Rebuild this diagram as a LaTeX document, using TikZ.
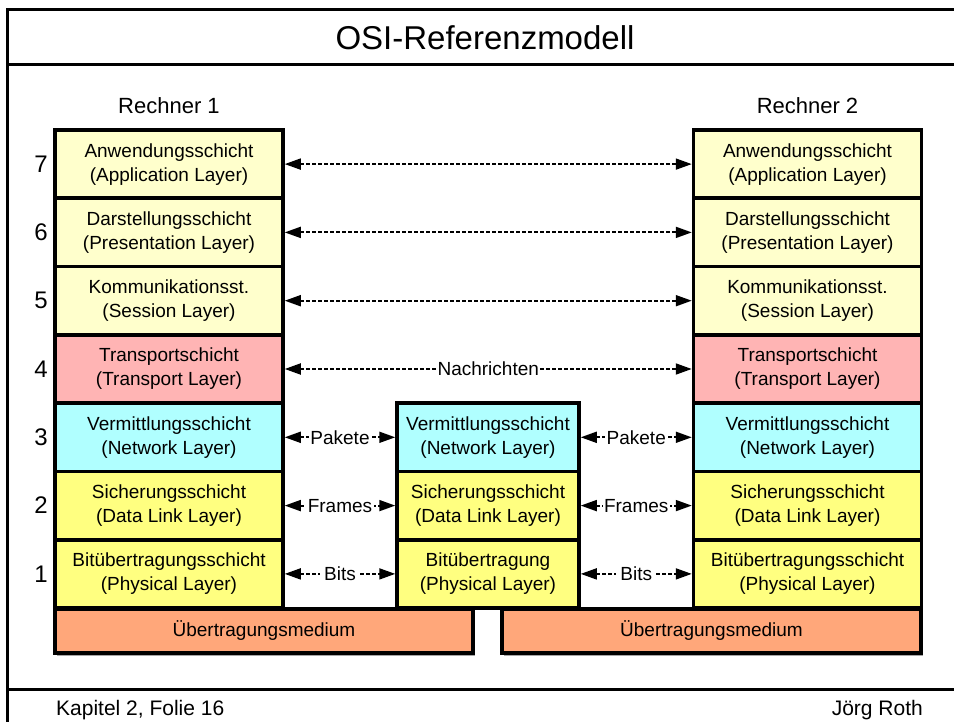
\documentclass[tikz,border=0pt]{standalone}
\usepackage{fontspec}
\setmainfont{Liberation Sans}
\usetikzlibrary{arrows.meta,shadows}
\definecolor{paleY}{HTML}{FFFFCC}
\definecolor{pinkL}{HTML}{FFB4B4}
\definecolor{cyanL}{HTML}{B0FFFF}
\definecolor{yelL}{HTML}{FFFF80}
\definecolor{medC}{HTML}{FFA77A}
\begin{document}
\begin{tikzpicture}[x=1pt,y=-1pt,
  frameline/.style={line width=3pt},
  layerbox/.style={draw, line width=3.5pt, align=center, inner sep=0pt,
    minimum height=68.3pt, font=\fontsize{19}{24}\selectfont},
  lbox/.style={layerbox, minimum width=228pt},
  mbox/.style={layerbox, minimum width=182pt},
  medbox/.style={draw, line width=3.5pt, fill=medC, inner sep=0pt, minimum height=44pt,
    font=\fontsize{19}{24}\selectfont,
    drop shadow={shadow xshift=1.5pt, shadow yshift=-2.5pt, fill=black!35, opacity=1}},
  numlbl/.style={font=\fontsize{24}{28}\selectfont, inner sep=0pt},
  arr/.style={line width=1.8pt, dash pattern=on 3.5pt off 2.5pt,
    {Triangle[length=16pt,width=11pt]}-{Triangle[length=16pt,width=11pt]}},
  lbl/.style={fill=white, inner sep=1.5pt, font=\fontsize{19}{24}\selectfont}
]
\useasboundingbox (0,0) rectangle (954,722);
% frame
\coordinate (fTL) at (7,10);
\coordinate (fTR) at (954,10);
\coordinate (fBL) at (7,722);
\coordinate (sL) at (7,65);
\coordinate (sR) at (954,65);
\coordinate (ftL) at (7,689);
\coordinate (ftR) at (954,689);
\draw[frameline] (fTR) -- (fTL) -- (fBL);
\draw[frameline] (sL) -- (sR);
\draw[frameline] (ftL) -- (ftR);

\node[font=\fontsize{33}{38}\selectfont] (title) at (485,38) {OSI-Referenzmodell};
\node[font=\fontsize{21}{25}\selectfont, anchor=base west, inner sep=0pt] (foot1) at (56,715) {Kapitel 2, Folie 16};
\node[font=\fontsize{21}{25}\selectfont, anchor=base east, inner sep=0pt] (foot2) at (923,715) {Jörg Roth};

\node[font=\fontsize{22}{26}\selectfont, anchor=base, inner sep=0pt] (r1) at (169,114) {Rechner 1};
\node[font=\fontsize{22}{26}\selectfont, anchor=base, inner sep=0pt] (r2) at (807.5,114) {Rechner 2};

% left stack
\node[lbox, fill=paleY] (L7) at (169,164.1) {Anwendungsschicht\\(Application Layer)};
\node[lbox, fill=paleY] (L6) at (169,232.4) {Darstellungsschicht\\(Presentation Layer)};
\node[lbox, fill=paleY] (L5) at (169,300.7) {Kommunikationsst.\\(Session Layer)};
\node[lbox, fill=pinkL] (L4) at (169,369.0) {Transportschicht\\(Transport Layer)};
\node[lbox, fill=cyanL] (L3) at (169,437.3) {Vermittlungsschicht\\(Network Layer)};
\node[lbox, fill=yelL] (L2) at (169,505.6) {Sicherungsschicht\\(Data Link Layer)};
\node[lbox, fill=yelL] (L1) at (169,573.9) {Bitübertragungsschicht\\(Physical Layer)};
% right stack
\node[lbox, fill=paleY] (R7) at (807.5,164.1) {Anwendungsschicht\\(Application Layer)};
\node[lbox, fill=paleY] (R6) at (807.5,232.4) {Darstellungsschicht\\(Presentation Layer)};
\node[lbox, fill=paleY] (R5) at (807.5,300.7) {Kommunikationsst.\\(Session Layer)};
\node[lbox, fill=pinkL] (R4) at (807.5,369.0) {Transportschicht\\(Transport Layer)};
\node[lbox, fill=cyanL] (R3) at (807.5,437.3) {Vermittlungsschicht\\(Network Layer)};
\node[lbox, fill=yelL] (R2) at (807.5,505.6) {Sicherungsschicht\\(Data Link Layer)};
\node[lbox, fill=yelL] (R1) at (807.5,573.9) {Bitübertragungsschicht\\(Physical Layer)};
% middle stack
\node[mbox, fill=cyanL] (M3) at (488,437.3) {Vermittlungsschicht\\(Network Layer)};
\node[mbox, fill=yelL] (M2) at (488,505.6) {Sicherungsschicht\\(Data Link Layer)};
\node[mbox, fill=yelL] (M1) at (488,573.9) {Bitübertragung\\(Physical Layer)};

% numbers
\node[numlbl] (n7) at (41,164.1) {7};
\node[numlbl] (n6) at (41,232.4) {6};
\node[numlbl] (n5) at (41,300.7) {5};
\node[numlbl] (n4) at (41,369.0) {4};
\node[numlbl] (n3) at (41,437.3) {3};
\node[numlbl] (n2) at (41,505.6) {2};
\node[numlbl] (n1) at (41,573.9) {1};

% medium
\node[medbox, minimum width=418pt] (med1) at (264,631) {Übertragungsmedium};
\node[medbox, minimum width=419pt] (med2) at (711.5,631) {Übertragungsmedium};

% arrows
\draw[arr] (L7.east) -- (R7.west);
\draw[arr] (L6.east) -- (R6.west);
\draw[arr] (L5.east) -- (R5.west);
\draw[arr] (L4.east) -- node[lbl] {Nachrichten} (R4.west);
\draw[arr] (L3.east) -- node[lbl] {Pakete} (M3.west);
\draw[arr] (M3.east) -- node[lbl] {Pakete} (R3.west);
\draw[arr] (L2.east) -- node[lbl] {Frames} (M2.west);
\draw[arr] (M2.east) -- node[lbl] {Frames} (R2.west);
\draw[arr] (L1.east) -- node[lbl, inner xsep=4pt] {Bits} (M1.west);
\draw[arr] (M1.east) -- node[lbl, inner xsep=4pt] {Bits} (R1.west);
\end{tikzpicture}
\end{document}
